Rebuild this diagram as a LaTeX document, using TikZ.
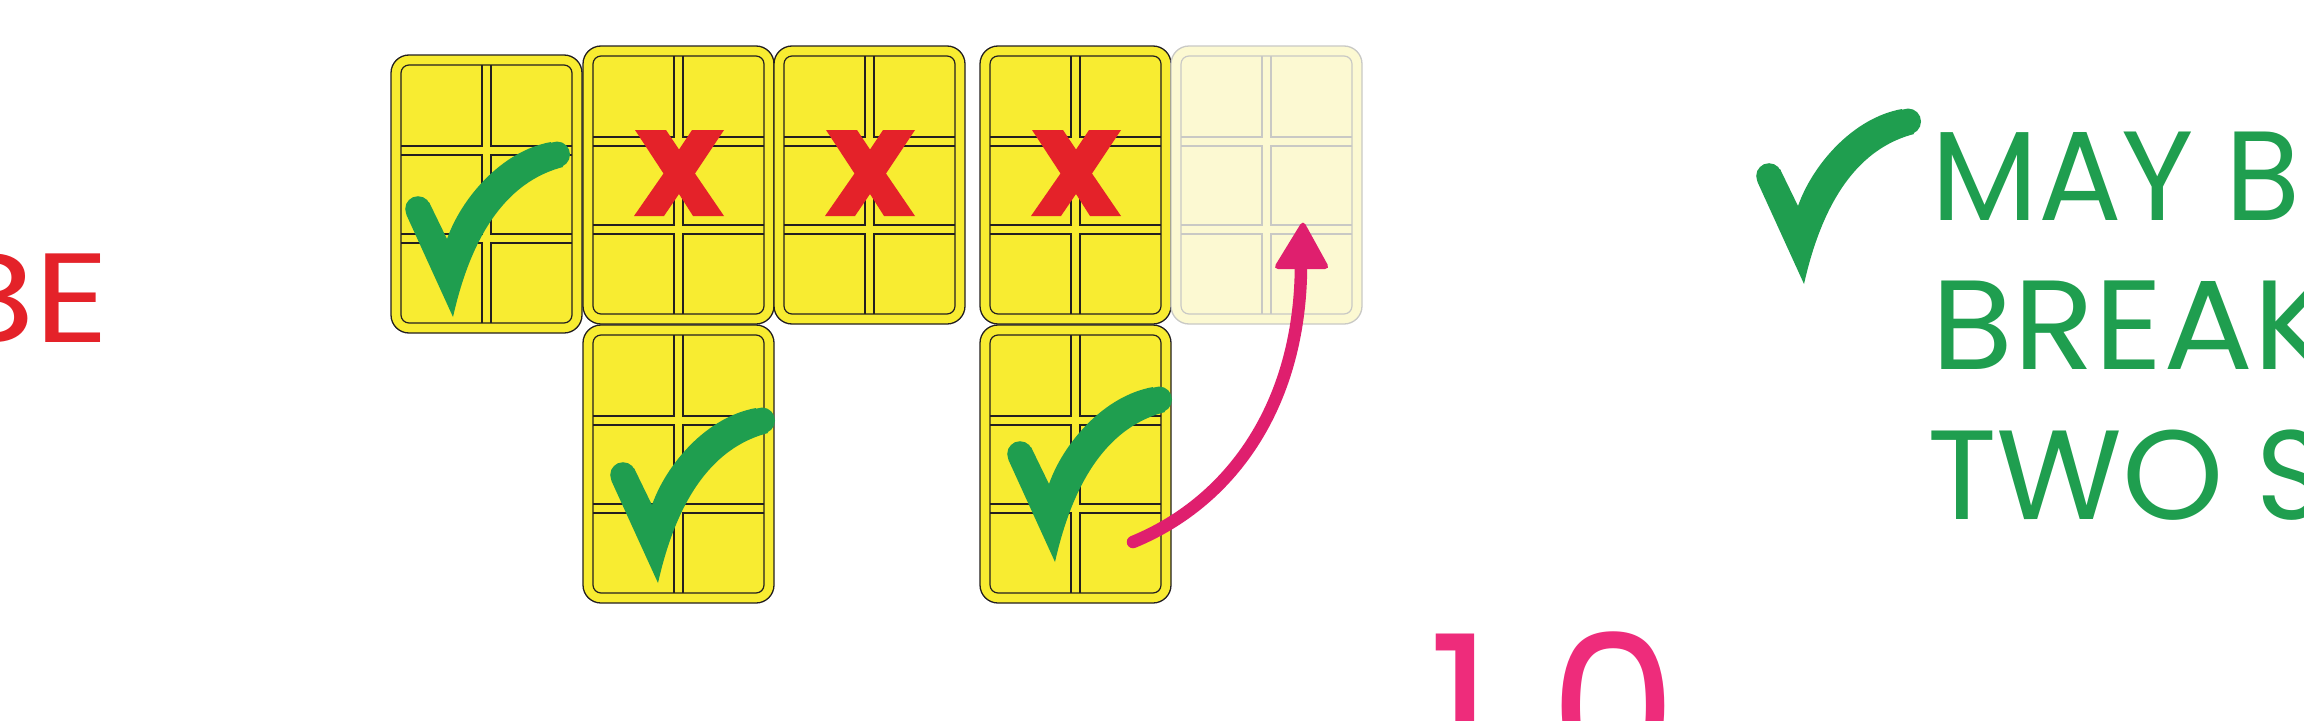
\documentclass[tikz,border=0pt]{standalone}
\usepackage{graphicx}
\usepackage{fontspec}
\setmainfont{Poppins}
\definecolor{tileY}{RGB}{248,236,49}
\definecolor{tileL}{RGB}{35,31,32}
\definecolor{fadeY}{RGB}{252,249,210}
\definecolor{fadeL}{RGB}{201,201,197}
\definecolor{checkG}{RGB}{31,158,79}
\definecolor{xRed}{RGB}{228,34,41}
\definecolor{pinkTen}{RGB}{238,44,123}
\definecolor{arrowPink}{RGB}{223,31,110}
\tikzset{
  pics/tile/.style n args={2}{code={
    \draw[line width=1.3pt, draw=#2, fill=#1, rounded corners=18pt] (0,0) rectangle (191,278);
    \draw[line width=1.2pt, draw=#2, rounded corners=8pt] (10,10) rectangle (181,268);
    \draw[line width=1.2pt, draw=#2, line join=miter]
      (91,10) -- (91,91) -- (10,91)
      (100,10) -- (100,91) -- (181,91)
      (10,100) -- (91,100) -- (91,179) -- (10,179)
      (181,100) -- (100,100) -- (100,179) -- (181,179)
      (10,188) -- (91,188) -- (91,268)
      (181,188) -- (100,188) -- (100,268);
  }},
  pics/checkmark/.style={code={
    \fill[checkG] (0,0) -- (-46.5,-102) -- (-24,-115) -- (-6,-78)
      .. controls (8,-118) and (48,-166) .. (98,-175) -- (110,-150)
      .. controls (64,-138) and (22,-98) .. (0,0) -- cycle;
    \fill[checkG] (-35,-108) circle (12.8pt);
    \fill[checkG] (104,-162.5) circle (13pt);
  }},
  pics/xmark/.style={code={
    \fill[xRed] (-44,-43) -- (-13,-43) -- (0,-23.5) -- (13,-43) -- (45,-43)
      -- (16,0.5) -- (45,43) -- (14,43) -- (0,21) -- (-15,43) -- (-45,43)
      -- (-15.5,0.5) -- cycle;
  }},
  bigtext/.style={font=\fontsize{127}{150}\selectfont, inner sep=0pt, anchor=base west},
}
\begin{document}
\begin{tikzpicture}[x=1pt, y=-1pt]
  \fill[white] (0,0) rectangle (2304,720);
  \useasboundingbox (0,0) rectangle (2304,720);

  % red text at left (cut off)
  \node[font=\fontsize{127}{150}\selectfont, inner sep=0pt, anchor=base east, text=xRed, xscale=1.15] (be) at (110,342) {BE};

  % tiles
  \pic at (391,55) {tile={tileY}{tileL}};
  \pic at (583,46) {tile={tileY}{tileL}};
  \pic at (774,46) {tile={tileY}{tileL}};
  \pic at (980,46) {tile={tileY}{tileL}};
  \pic at (1171,46) {tile={fadeY}{fadeL}};
  \pic at (583,325) {tile={tileY}{tileL}};
  \pic at (980,325) {tile={tileY}{tileL}};

  % marks
  \pic at (679,173) {xmark};
  \pic at (870,173) {xmark};
  \pic at (1076,173) {xmark};
  \pic at (453,317) {checkmark};
  \pic at (658,583) {checkmark};
  \pic at (1055,562) {checkmark};
  \pic at (1804,284) {checkmark};

  % arrow
  \coordinate (aS) at (1133,542);
  \coordinate (aB) at (1301,264);
  \coordinate (aT) at (1303,220);
  \draw[arrowPink, line width=12.5pt, line cap=round] (aS) .. controls (1235,500) and (1301,400) .. (aB);
  \fill[arrowPink, rounded corners=5pt] (aT) -- (1330,269) -- (1273,269) -- cycle;

  % green text (cut off at right)
  \node[bigtext, text=checkG] (l1) at (1931,220)
    {\resizebox{263pt}{\height}{MAY}\kern31pt\resizebox{75pt}{\height}{B}};
  \node[bigtext, text=checkG] (l2) at (1931,369.5)
    {\resizebox{402pt}{\height}{BREAK}};
  \node[bigtext, text=checkG] (l3) at (1927,519.5)
    {\resizebox{297pt}{\height}{TWO}\kern32pt\resizebox{70pt}{\height}{S}};

  % pink number (cut off at bottom)
  \node[font=\fontsize{204}{210}\selectfont, inner sep=0pt, anchor=north west, text=pinkTen] (ten) at (1428,632) {1\kern56pt 0};
\end{tikzpicture}
\end{document}
